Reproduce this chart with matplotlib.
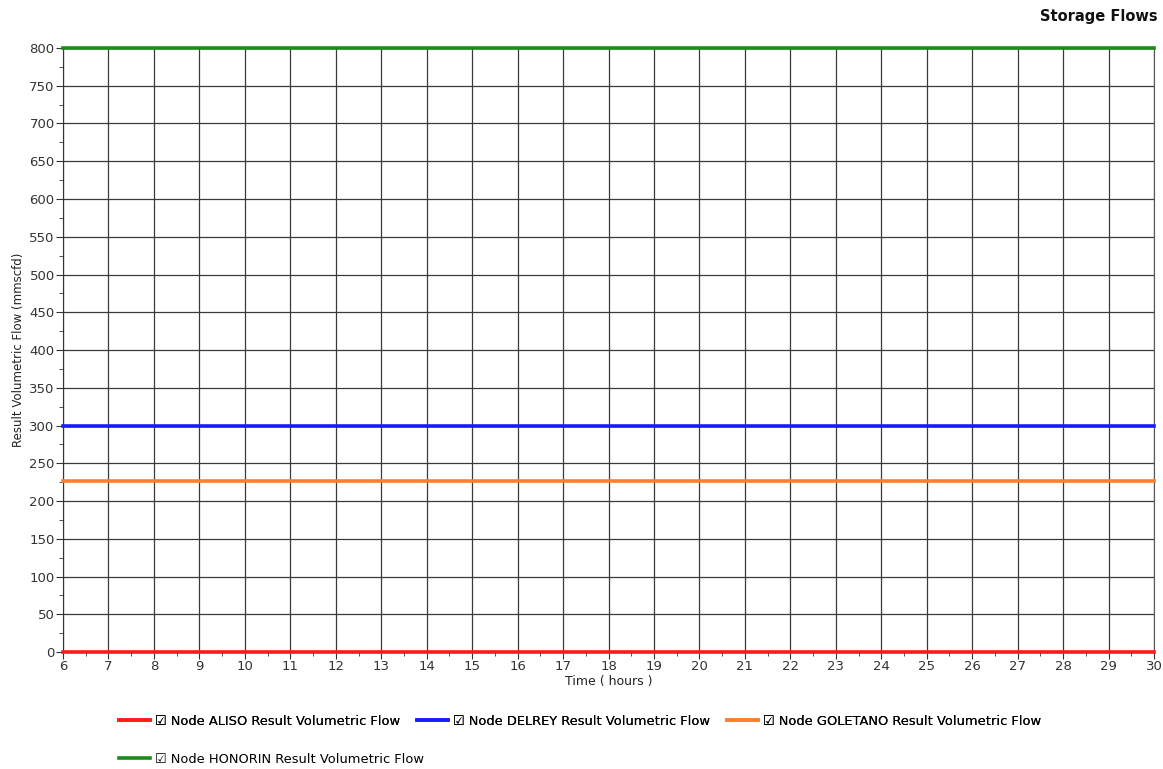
import matplotlib
matplotlib.use("Agg")
import matplotlib.pyplot as plt
from matplotlib.ticker import MultipleLocator

# hourly samples (all four flows are flat)
hours = [6, 7, 8, 9, 10, 11, 12, 13, 14, 15, 16, 17, 18,
         19, 20, 21, 22, 23, 24, 25, 26, 27, 28, 29, 30]
aliso = [0, 0, 0, 0, 0, 0, 0, 0, 0, 0, 0, 0, 0,
         0, 0, 0, 0, 0, 0, 0, 0, 0, 0, 0, 0]
delrey = [300, 300, 300, 300, 300, 300, 300, 300, 300, 300, 300, 300, 300,
          300, 300, 300, 300, 300, 300, 300, 300, 300, 300, 300, 300]
goletano = [226, 226, 226, 226, 226, 226, 226, 226, 226, 226, 226, 226, 226,
            226, 226, 226, 226, 226, 226, 226, 226, 226, 226, 226, 226]
honorin = [800, 800, 800, 800, 800, 800, 800, 800, 800, 800, 800, 800, 800,
           800, 800, 800, 800, 800, 800, 800, 800, 800, 800, 800, 800]

names = ["ALISO", "DELREY", "GOLETANO", "HONORIN"]
colors = ["#ff1a1a", "#1a1aff", "#ff7f2a", "#1a8c1a"]
series = [aliso, delrey, goletano, honorin]

plt.rcParams['font.family'] = ['DejaVu Sans']

fig = plt.figure(figsize=(11.63, 7.69), dpi=100)
ax = fig.add_axes([0.0542, 0.1521, 0.9381, 0.7855])

lines = []
for name, col, vals in zip(names, colors, series):
    ln, = ax.plot(hours, vals, color=col, lw=2.6, clip_on=False, zorder=3,
                  label="\u2611 Node " + name + " Result Volumetric Flow")
    lines.append(ln)

ax.set_xlim(6, 30)
ax.set_ylim(0, 800)
ax.xaxis.set_major_locator(MultipleLocator(1))
ax.xaxis.set_minor_locator(MultipleLocator(0.5))
ax.yaxis.set_major_locator(MultipleLocator(50))
ax.yaxis.set_minor_locator(MultipleLocator(25))
ax.grid(True, which='major', color='#3a3a3a', lw=0.9)
ax.tick_params(which='major', direction='out', length=5, color='#333333',
               labelsize=9.5, labelcolor='#333333', pad=1)
ax.tick_params(which='minor', direction='out', length=3, color='#333333')
for s in ['top', 'right']:
    ax.spines[s].set_color('#555555')
for s in ['left', 'bottom']:
    ax.spines[s].set_color('#333333')

ax.set_xlabel("Time ( hours )", fontsize=9, color='#222222', labelpad=1)
ax.set_ylabel("Result Volumetric Flow (mmscfd)", fontsize=8.5, color='#222222', labelpad=3)

fig.text(0.995, 0.979, "Storage Flows", ha='right', va='center',
         fontsize=10.5, fontweight='bold', color='#111111')

leg1 = fig.legend(handles=lines[:3], loc='center left', bbox_to_anchor=(0.092, 0.062),
                  ncol=3, frameon=False, fontsize=9.4, handlelength=2.4,
                  handletextpad=0.4, columnspacing=1.25)
fig.add_artist(leg1)
fig.legend(handles=lines[3:], loc='center left', bbox_to_anchor=(0.092, 0.013),
           frameon=False, fontsize=9.4, handlelength=2.4, handletextpad=0.4)

fig.savefig("out.png", dpi=100)
